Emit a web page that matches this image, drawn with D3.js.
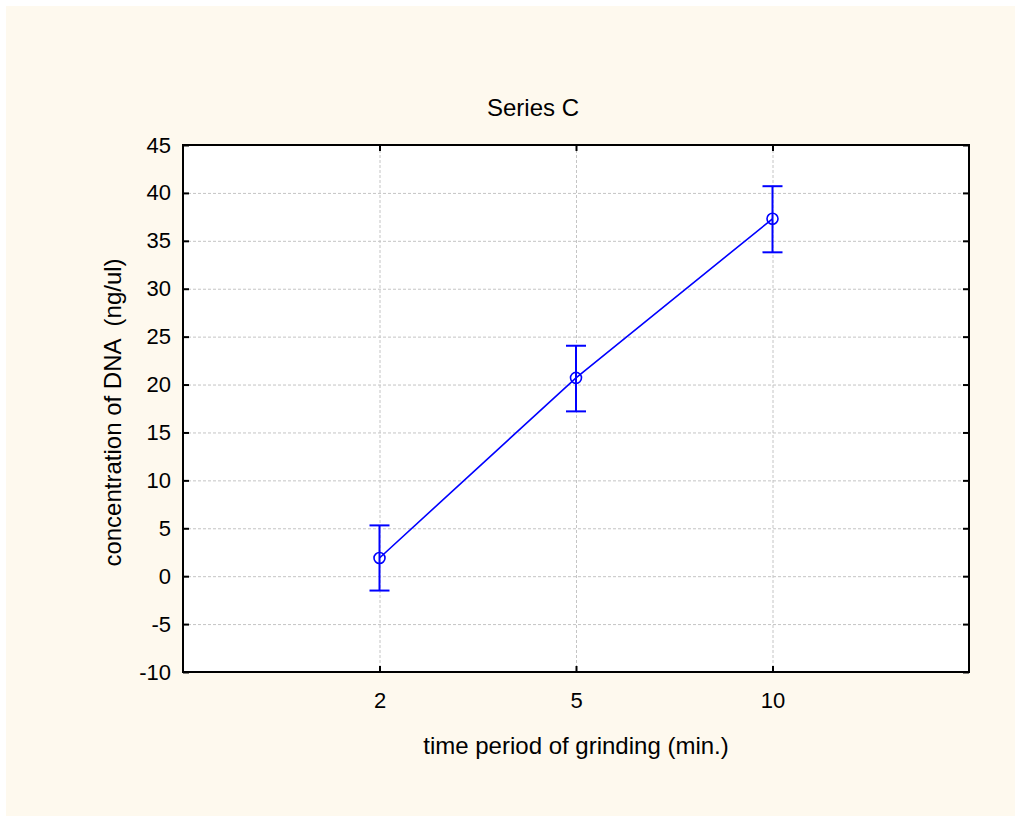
<!DOCTYPE html>
<html>
<head>
<meta charset="utf-8">
<script src="https://cdn.jsdelivr.net/npm/d3@7"></script>
<style>
  html, body { margin: 0; padding: 0; background: #fff; }
  svg { display: block; font-family: "Liberation Sans", Arial, sans-serif; }
</style>
</head>
<body>
<div id="app"></div>
<script>
// grinding time (min.) -> DNA concentration, mean with upper/lower bars
const categories = ["2", "5", "10"];
const means = [1.9, 20.7, 37.3];
const upper = [5.3, 24.05, 40.7];
const lower = [-1.5, 17.2, 33.8];
const yTicks = [-10, -5, 0, 5, 10, 15, 20, 25, 30, 35, 40, 45];

const width = 1015;
const height = 816;
const plot = { left: 183, top: 145, right: 969, bottom: 672 };

const svg = d3.select("#app").append("svg")
  .attr("width", width)
  .attr("height", height);

svg.append("rect")
  .attr("x", 6).attr("y", 6)
  .attr("width", width - 6).attr("height", height - 6)
  .attr("fill", "#fef9ee");

svg.append("rect")
  .attr("x", plot.left).attr("y", plot.top)
  .attr("width", plot.right - plot.left).attr("height", plot.bottom - plot.top)
  .attr("fill", "#fff");

const x = d3.scalePoint()
  .domain(categories)
  .range([plot.left, plot.right])
  .padding(1);

const y = d3.scaleLinear()
  .domain([-10, 45])
  .range([plot.bottom, plot.top]);

// grid
const grid = svg.append("g")
  .attr("stroke", "#c4c4c4")
  .attr("stroke-width", 1)
  .attr("stroke-dasharray", "3,2");

grid.selectAll("line.h")
  .data(yTicks.filter(t => t > -10 && t < 45))
  .enter().append("line")
  .attr("class", "h")
  .attr("x1", plot.left).attr("x2", plot.right)
  .attr("y1", d => y(d) + 0.5).attr("y2", d => y(d) + 0.5);

grid.selectAll("line.v")
  .data(categories)
  .enter().append("line")
  .attr("class", "v")
  .attr("y1", plot.top).attr("y2", plot.bottom)
  .attr("x1", d => x(d) + 0.5).attr("x2", d => x(d) + 0.5);

// axes, ticks point inward
const axisLeft = d3.axisLeft(y).tickValues(yTicks).tickSize(-6).tickPadding(12).tickFormat(d => String(d));
const axisRight = d3.axisRight(y).tickValues(yTicks).tickSize(-6).tickFormat("");
const axisBottom = d3.axisBottom(x).tickSize(-6).tickPadding(20);
const axisTop = d3.axisTop(x).tickSize(-6).tickFormat("");

function styleAxis(g) {
  g.select(".domain").remove();
  g.selectAll(".tick line").attr("stroke", "#000").attr("stroke-width", 2);
  g.selectAll(".tick text")
    .attr("fill", "#000")
    .style("font-size", "22px");
}

svg.append("g").attr("transform", `translate(${plot.left},0)`).call(axisLeft).call(styleAxis);
svg.append("g").attr("transform", `translate(${plot.right},0)`).call(axisRight).call(styleAxis);
svg.append("g").attr("transform", `translate(0,${plot.bottom})`).call(axisBottom).call(styleAxis);
svg.append("g").attr("transform", `translate(0,${plot.top})`).call(axisTop).call(styleAxis);

svg.append("rect")
  .attr("x", plot.left).attr("y", plot.top)
  .attr("width", plot.right - plot.left).attr("height", plot.bottom - plot.top)
  .attr("fill", "none")
  .attr("stroke", "#000")
  .attr("stroke-width", 2);

// series
const points = categories.map((c, i) => ({ c, m: means[i], hi: upper[i], lo: lower[i] }));
const blue = "#0000ff";

svg.append("path")
  .datum(points)
  .attr("fill", "none")
  .attr("stroke", blue)
  .attr("stroke-width", 1.6)
  .attr("d", d3.line().x(d => x(d.c)).y(d => y(d.m)));

const bars = svg.append("g").attr("stroke", blue).attr("stroke-width", 2).attr("fill", "none");

bars.selectAll("line.stem")
  .data(points)
  .enter().append("line")
  .attr("x1", d => x(d.c)).attr("x2", d => x(d.c))
  .attr("y1", d => y(d.hi)).attr("y2", d => y(d.lo));

bars.selectAll("line.capHi")
  .data(points)
  .enter().append("line")
  .attr("x1", d => x(d.c) - 10).attr("x2", d => x(d.c) + 10)
  .attr("y1", d => y(d.hi)).attr("y2", d => y(d.hi));

bars.selectAll("line.capLo")
  .data(points)
  .enter().append("line")
  .attr("x1", d => x(d.c) - 10).attr("x2", d => x(d.c) + 10)
  .attr("y1", d => y(d.lo)).attr("y2", d => y(d.lo));

bars.selectAll("circle")
  .data(points)
  .enter().append("circle")
  .attr("cx", d => x(d.c))
  .attr("cy", d => y(d.m))
  .attr("r", 5.5)
  .attr("stroke-width", 1.6);

// labels
svg.append("text")
  .attr("x", 533).attr("y", 116)
  .attr("text-anchor", "middle")
  .style("font-size", "24px")
  .text("Series C");

svg.append("text")
  .attr("x", (plot.left + plot.right) / 2).attr("y", 754)
  .attr("text-anchor", "middle")
  .style("font-size", "24px")
  .text("time period of grinding (min.)");

svg.append("text")
  .attr("transform", `translate(121,${(plot.top + plot.bottom) / 2 + 4}) rotate(-90)`)
  .attr("text-anchor", "middle")
  .style("font-size", "24px")
  .style("white-space", "pre")
  .text("concentration of DNA  (ng/ul)");
</script>
</body>
</html>
